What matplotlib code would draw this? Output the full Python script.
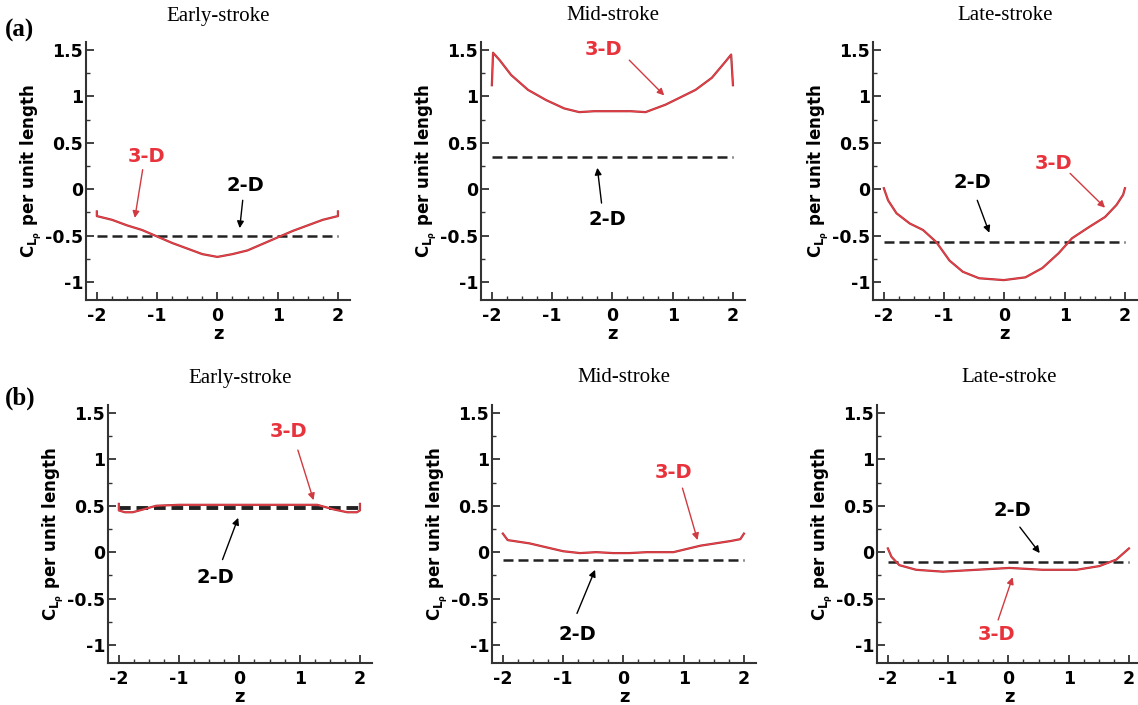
import numpy as np
import matplotlib.pyplot as plt
from matplotlib.ticker import MultipleLocator

plt.rcParams['font.family'] = ['DejaVu Sans']
plt.rcParams['mathtext.fontset'] = 'custom'
plt.rcParams['mathtext.rm'] = 'DejaVu Sans:bold'
plt.rcParams['mathtext.it'] = 'DejaVu Sans:bold'
plt.rcParams['mathtext.bf'] = 'DejaVu Sans:bold'

# spanwise lift coefficient per unit length
titles = ["Early-stroke", "Mid-stroke", "Late-stroke"]

z_a_early = [-2, -2, -1.75, -1.5, -1.25, -1, -0.75, -0.5, -0.25, 0, 0.25, 0.5, 0.75, 1, 1.25, 1.5, 1.75, 2, 2]
cl_a_early = [-0.24, -0.29, -0.33, -0.39, -0.44, -0.51, -0.58, -0.64, -0.70, -0.73, -0.70, -0.66, -0.59, -0.52, -0.45, -0.39, -0.33, -0.29, -0.24]
cl2d_a_early = -0.5

z_a_mid = [-2, -1.98, -1.87, -1.68, -1.40, -1.10, -0.80, -0.55, -0.3, 0, 0.3, 0.55, 0.88, 1.10, 1.38, 1.65, 1.87, 1.97, 2.0]
cl_a_mid = [1.12, 1.47, 1.39, 1.23, 1.07, 0.96, 0.87, 0.83, 0.84, 0.84, 0.84, 0.83, 0.91, 0.98, 1.07, 1.20, 1.37, 1.45, 1.12]
cl2d_a_mid = 0.35

z_a_late = [-2, -1.93, -1.79, -1.57, -1.35, -1.13, -0.91, -0.69, -0.42, -0.01, 0.35, 0.63, 0.90, 1.12, 1.40, 1.67, 1.86, 1.97, 2.0]
cl_a_late = [0.01, -0.12, -0.26, -0.37, -0.44, -0.57, -0.77, -0.89, -0.96, -0.98, -0.95, -0.85, -0.69, -0.53, -0.41, -0.30, -0.17, -0.06, 0.01]
cl2d_a_late = -0.57

z_b_early = [-2, -2, -1.9, -1.77, -1.6, -1.38, -1, 0, 1, 1.29, 1.57, 1.79, 1.95, 2, 2]
cl_b_early = [0.52, 0.45, 0.43, 0.43, 0.46, 0.50, 0.51, 0.51, 0.51, 0.51, 0.46, 0.43, 0.43, 0.45, 0.52]
cl2d_b_early = 0.48

z_b_mid = [-2, -1.92, -1.56, -1.0, -0.72, -0.45, -0.17, 0.1, 0.39, 0.83, 1.28, 1.78, 1.94, 2.0]
cl_b_mid = [0.20, 0.13, 0.095, 0.01, -0.01, 0.0, -0.01, -0.01, 0.0, 0.0, 0.07, 0.12, 0.14, 0.20]
cl2d_b_mid = -0.08

z_b_late = [-2, -1.94, -1.81, -1.53, -1.09, -0.53, 0.02, 0.57, 1.13, 1.51, 1.79, 1.93, 2.0]
cl_b_late = [0.04, -0.05, -0.14, -0.19, -0.21, -0.19, -0.17, -0.19, -0.19, -0.15, -0.08, 0.0, 0.04]
cl2d_b_late = -0.11

# annotation label, arrow tail, arrow head (data coords)
notes_3d = [((-1.17, 0.35), (-1.24, 0.21), (-1.37, -0.31)),
            ((-0.15, 1.50), (0.28, 1.39), (0.86, 1.01)),
            ((0.81, 0.28), (1.09, 0.17), (1.67, -0.20)),
            ((0.82, 1.30), (0.97, 1.10), (1.23, 0.56)),
            ((0.83, 0.86), (0.98, 0.69), (1.23, 0.13)),
            ((-0.19, -0.89), (-0.17, -0.73), (0.07, -0.27))]
notes_2d = [((0.46, 0.04), (0.42, -0.12), (0.37, -0.42)),
            ((-0.08, -0.33), (-0.18, -0.15), (-0.25, 0.23)),
            ((-0.53, 0.07), (-0.45, -0.12), (-0.25, -0.47)),
            ((-0.40, -0.27), (-0.28, -0.08), (-0.02, 0.37)),
            ((-0.77, -0.89), (-0.77, -0.66), (-0.47, -0.19)),
            ((0.07, 0.45), (0.19, 0.27), (0.52, -0.01))]

z3 = [z_a_early, z_a_mid, z_a_late, z_b_early, z_b_mid, z_b_late]
c3 = [cl_a_early, cl_a_mid, cl_a_late, cl_b_early, cl_b_mid, cl_b_late]
c2 = [cl2d_a_early, cl2d_a_mid, cl2d_a_late, cl2d_b_early, cl2d_b_mid, cl2d_b_late]

W, H = 1138, 705
fig = plt.figure(figsize=(W / 100, H / 100), dpi=100)

lefts = [86, 481, 873, 108, 492, 877]
bottoms = [299.6, 299.6, 299.6, 662.6, 662.6, 662.6]
red = '#e8323c'
axcol = '#333333'

for i in range(6):
    ax = fig.add_axes([lefts[i] / W, 1 - bottoms[i] / H, 264 / W, 258 / H])
    ax.plot(z3[i], c3[i], color='#a8343a', lw=1.6, zorder=3)
    ax.plot(z3[i], c3[i], color='#f04048', lw=0.8, zorder=4)
    ax.plot([-2, 2], [c2[i], c2[i]], color='#222222', lw=1.8 if i != 3 else 2.8,
            dashes=(4, 2) if i != 3 else (3, 1.5), zorder=2)

    lab, tail, head = notes_3d[i]
    ax.text(lab[0], lab[1], "3-D", color=red, fontsize=14, fontweight='bold', ha='center', va='center')
    ax.annotate('', xy=head, xytext=tail,
                arrowprops=dict(arrowstyle='-|>', color='#d03a40', lw=1.0, mutation_scale=10, shrinkA=0, shrinkB=0))
    lab, tail, head = notes_2d[i]
    ax.text(lab[0], lab[1], "2-D", color='black', fontsize=14, fontweight='bold', ha='center', va='center')
    ax.annotate('', xy=head, xytext=tail,
                arrowprops=dict(arrowstyle='-|>', color='black', lw=1.0, mutation_scale=10, shrinkA=0, shrinkB=0))

    ax.set_xlim(-2.18, 2.2)
    ax.set_ylim(-1.19, 1.59)
    ax.set_xticks([-2, -1, 0, 1, 2])
    ax.set_yticks([-1, -0.5, 0, 0.5, 1, 1.5])
    ax.set_yticklabels(['-1', '-0.5', '0', '0.5', '1', '1.5'])
    ax.set_xticklabels(['-2', '-1', '0', '1', '2'])
    ax.xaxis.set_minor_locator(MultipleLocator(0.25))
    ax.yaxis.set_minor_locator(MultipleLocator(0.25))
    ax.tick_params(which='major', direction='in', length=6, width=1.3, color=axcol, labelsize=12.5, pad=5)
    ax.tick_params(axis='y', which='major', pad=2)
    ax.tick_params(which='minor', direction='in', length=3, width=1.0, color=axcol)
    for lbl in ax.get_xticklabels() + ax.get_yticklabels():
        lbl.set_fontweight('bold')
    for s in ['top', 'right']:
        ax.spines[s].set_visible(False)
    for s in ['left', 'bottom']:
        ax.spines[s].set_linewidth(1.5)
        ax.spines[s].set_color(axcol)
    ax.set_xlabel('z', fontsize=13, fontweight='bold', labelpad=0)
    ax.set_ylabel(r'C$_{\mathrm{L}_{\rho}}$ per unit length', fontsize=12, fontweight='bold')
    ax.yaxis.set_label_coords(-0.158, 0.5)
    ax.patch.set_alpha(0)

    row_top = 16 if i < 3 else 378
    fig.text((lefts[i] + 132) / W, 1 - row_top / H, titles[i % 3],
             family='Liberation Serif', fontsize=15, ha='center', va='center')

fig.text(5 / W, 1 - 30 / H, '(a)', family='Liberation Serif', fontsize=18, fontweight='bold', va='center')
fig.text(5 / W, 1 - 398 / H, '(b)', family='Liberation Serif', fontsize=18, fontweight='bold', va='center')

fig.savefig('out.png', dpi=100)
